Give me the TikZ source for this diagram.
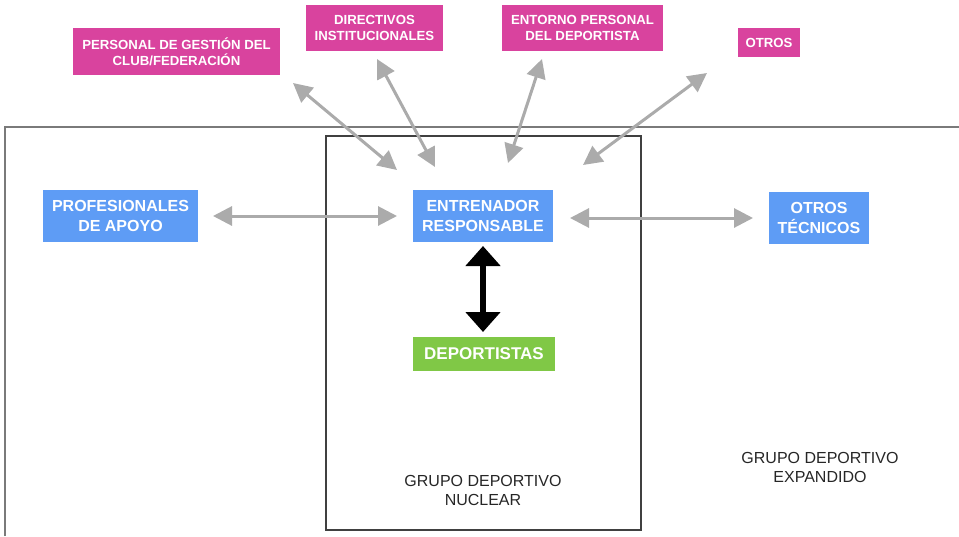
\documentclass[tikz,border=0pt]{standalone}
\usepackage{fontspec}
\setmainfont{Liberation Sans}
\usetikzlibrary{arrows.meta}
\definecolor{pinkbox}{HTML}{D9439E}
\definecolor{bluebox}{HTML}{5E9CF5}
\definecolor{greenbox}{HTML}{80C846}
\definecolor{arrowgray}{HTML}{ABABAB}
\definecolor{framegray}{HTML}{7A7A7A}
\definecolor{labelgray}{HTML}{262626}
\tikzset{
  pinkstyle/.style={fill=pinkbox, text=white, inner sep=0pt, align=center,
    font=\fontsize{13.2}{16}\selectfont\bfseries},
  bluestyle/.style={fill=bluebox, text=white, inner sep=0pt, align=center,
    font=\fontsize{16}{20}\selectfont\bfseries},
  greenstyle/.style={fill=greenbox, text=white, inner sep=0pt, align=center,
    font=\fontsize{17}{20}\selectfont\bfseries},
  grouplabel/.style={text=labelgray, align=center, inner sep=0pt,
    font=\fontsize{16}{19}\selectfont},
  grayarrow/.style={draw=arrowgray, line width=3pt,
    {Triangle[length=19pt,width=19pt]}-{Triangle[length=19pt,width=19pt]}},
  blackarrow/.style={draw=black, line width=6pt,
    {Triangle[length=20pt,width=34pt]}-{Triangle[length=20pt,width=34pt]}}
}
\begin{document}
\begin{tikzpicture}[x=1pt,y=-1pt]
\useasboundingbox (0,0) rectangle (959,536);
% frames
\draw[framegray, line width=1.5pt] (5,536) -- (5,127) -- (959,127);
\draw[black!75, line width=1.3pt] (326,136) rectangle (641,530);
% pink boxes
\node[pinkstyle, minimum width=207pt, minimum height=47pt] (pg) at (176.5,51.5) {PERSONAL DE GESTIÓN DEL\\CLUB/FEDERACIÓN};
\node[pinkstyle, minimum width=137pt, minimum height=46pt] (dir) at (374.5,28) {DIRECTIVOS\\INSTITUCIONALES};
\node[pinkstyle, minimum width=161pt, minimum height=46pt] (ent) at (582.5,28) {ENTORNO PERSONAL\\DEL DEPORTISTA};
\node[pinkstyle, minimum width=62pt, minimum height=29pt] (otr) at (769,42.5) {OTROS};
% blue boxes
\node[bluestyle, minimum width=155pt, minimum height=52pt] (prof) at (120.5,216) {PROFESIONALES\\DE APOYO};
\node[bluestyle, minimum width=140pt, minimum height=52pt] (entr) at (483,216) {ENTRENADOR\\RESPONSABLE};
\node[bluestyle, minimum width=100pt, minimum height=52pt] (ot) at (819,218) {OTROS\\TÉCNICOS};
% green
\node[greenstyle, minimum width=142pt, minimum height=34pt] (dep) at (484,354) {DEPORTISTAS};
% labels
\node[grouplabel] (nuc) at (483,490) {GRUPO DEPORTIVO\\NUCLEAR};
\node[grouplabel] (exp) at (820,467) {GRUPO DEPORTIVO\\EXPANDIDO};
% arrow end points
\coordinate (pgE) at (293,83);   \coordinate (pgC) at (397,170);
\coordinate (dirE) at (377,59);  \coordinate (dirC) at (435,167);
\coordinate (entE) at (542,59);  \coordinate (entC) at (508,163);
\coordinate (otrE) at (707,73);  \coordinate (otrC) at (583,165);
\coordinate (profE) at (213,216); \coordinate (profC) at (397,216);
\coordinate (otE) at (753,218);  \coordinate (otC) at (570,218);
\coordinate (entrB) at (483,246); \coordinate (depT) at (483,332);
% arrows
\draw[grayarrow] (pgE) -- (pgC);
\draw[grayarrow] (dirE) -- (dirC);
\draw[grayarrow] (entE) -- (entC);
\draw[grayarrow] (otrE) -- (otrC);
\draw[grayarrow] (profE) -- (profC);
\draw[grayarrow] (otC) -- (otE);
\draw[blackarrow] (entrB) -- (depT);
\end{tikzpicture}
\end{document}
